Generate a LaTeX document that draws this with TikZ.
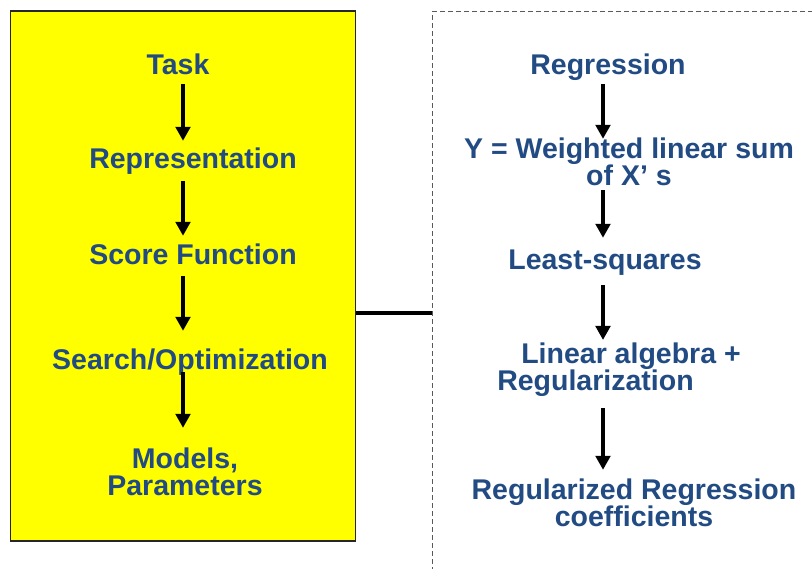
\documentclass[tikz,border=0pt]{standalone}
\usepackage{fontspec}
\setmainfont{Liberation Sans}
\usetikzlibrary{arrows.meta}
\definecolor{txt}{RGB}{33,75,130}
\definecolor{boxyellow}{RGB}{255,255,0}
\begin{document}
\begin{tikzpicture}[x=1pt,y=-1pt,
  lbl/.style={font=\fontsize{28.5}{27}\selectfont\bfseries, text=txt, inner sep=0pt, align=center},
  one/.style={lbl, anchor=base, text height=21pt, text depth=6pt},
  arr/.style={line width=4.8pt, -{Triangle[length=14pt,width=14.5pt]}},
  conn/.style={line width=4.5pt}]
\useasboundingbox (0,0) rectangle (812,569);
% boxes
\node[draw=black!85, fill=boxyellow, line width=1.2pt, minimum width=345pt, minimum height=530pt, inner sep=0pt] (lbox) at (183,276) {};
\node[draw=black!65, dash pattern=on 5pt off 3pt, line width=1pt, minimum width=500pt, minimum height=700pt, inner sep=0pt, anchor=north west] (rbox) at (432,11) {};
\coordinate (lnk) at (0,313);
\coordinate (colL) at (183,0);
\coordinate (colR) at (603,0);
\draw[conn] (lbox.east |- lnk) -- (rbox.west |- lnk);
% left column
\node[one] (task) at (178,75) {Task};
\node[one] (rep) at (193,169) {Representation};
\node[one] (score) at (193,265) {Score Function};
\node[one] (search) at (190,370) {Search/Optimization};
\node[lbl] (models) at (185,472) {Models,\\Parameters};
\draw[arr, shorten <=3pt, shorten >=7pt] (task.south -| colL) -- (rep.north -| colL);
\draw[arr, shorten <=6pt, shorten >=8pt] (rep.south -| colL) -- (score.north -| colL);
\draw[arr, shorten <=5pt, shorten >=18pt] (score.south -| colL) -- (search.north -| colL);
\draw[arr, shorten <=-4pt, shorten >=20pt] (search.south -| colL) -- (models.north -| colL);
% right column
\node[one] (reg) at (608,75) {Regression};
\node[lbl] (ywl) at (629,162) {Y = Weighted linear sum\\of X’ s};
\node[one] (ls) at (605,270) {Least-squares};
\node[lbl, align=left] (la) at (619,370) {\hspace*{24pt}Linear algebra +\\Regularization};
\node[lbl] (rrc) at (634,503) {Regularized Regression\\coefficients};
\draw[arr, shorten <=3pt, shorten >=-1pt] (reg.south -| colR) -- (ywl.north -| colR);
\draw[arr, shorten <=4pt, shorten >=11pt] (ywl.south -| colR) -- (ls.north -| colR);
\draw[arr, shorten <=9pt, shorten >=3pt] (ls.south -| colR) -- (la.north -| colR);
\draw[arr, shorten <=11pt, shorten >=9pt] (la.south -| colR) -- (rrc.north -| colR);
\end{tikzpicture}
\end{document}
